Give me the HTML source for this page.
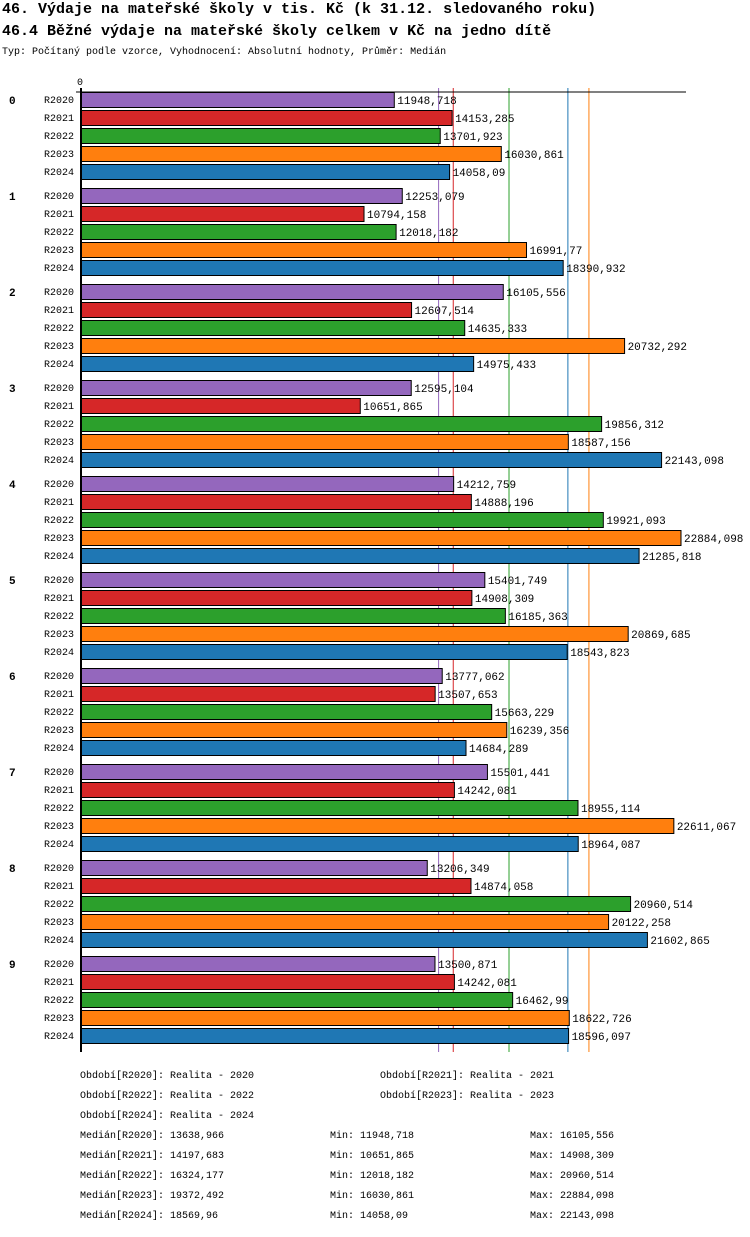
<!DOCTYPE html>
<html><head><meta charset="utf-8"><style>
body{margin:0;background:#fff;width:750px;height:1232px;overflow:hidden;font-family:"Liberation Mono",monospace}
svg text{font-family:"Liberation Mono",monospace}
</style></head><body>
<svg id="c" width="750" height="1232" xmlns="http://www.w3.org/2000/svg">
<text x="2" y="13" font-size="15" font-weight="bold">46. Výdaje na mateřské školy v tis. Kč (k 31.12. sledovaného roku)</text>
<text x="2" y="35" font-size="15" font-weight="bold">46.4 Běžné výdaje na mateřské školy celkem v Kč na jedno dítě</text>
<text x="2" y="54" font-size="10">Typ: Počítaný podle vzorce, Vyhodnocení: Absolutní hodnoty, Průměr: Medián</text>
<g id="g"></g>
</svg>
<script>
const groups=["0","1","2","3","4","5","6","7","8","9"];
const seriesNames=["R2020","R2021","R2022","R2023","R2024"];
const colors=["#9467bd","#d62728","#2ca02c","#ff7f0e","#1f77b4"];
const r2020=[11948.718,12253.079,16105.556,12595.104,14212.759,15401.749,13777.062,15501.441,13206.349,13500.871];
const r2021=[14153.285,10794.158,12607.514,10651.865,14888.196,14908.309,13507.653,14242.081,14874.058,14242.081];
const r2022=[13701.923,12018.182,14635.333,19856.312,19921.093,16185.363,15663.229,18955.114,20960.514,16462.99];
const r2023=[16030.861,16991.77,20732.292,18587.156,22884.098,20869.685,16239.356,22611.067,20122.258,18622.726];
const r2024=[14058.09,18390.932,14975.433,22143.098,21285.818,18543.823,14684.289,18964.087,21602.865,18596.097];
const medians=[13638.966,14197.683,16324.177,19372.492,18569.96];
const mins=[11948.718,10651.865,12018.182,16030.861,14058.09];
const maxs=[16105.556,14908.309,20960.514,22884.098,22143.098];
const series=[r2020,r2021,r2022,r2023,r2024];
const X0=81,XMAX=22884.098,XW=600;
function x(v){return X0+v/XMAX*XW;}
function y(gi,si){return 92+gi*96+si*18;}
const NS="http://www.w3.org/2000/svg",G=document.getElementById('g');
function mk(t,a,txt){const e=document.createElementNS(NS,t);for(const k in a)e.setAttribute(k,a[k]);if(txt!=null)e.textContent=txt;G.appendChild(e);return e;}
const fmt=v=>String(v).replace('.',',');
// median lines
medians.forEach((m,i)=>{const e=mk('line',{x1:x(m),x2:x(m),y1:88,y2:1052,stroke:colors[i],'stroke-width':1});

});
groups.forEach((g,gi)=>{
 const gl=mk('text',{x:9,y:y(gi,0)+12,'font-size':11,'font-weight':'bold'},g);
 
 
 series.forEach((s,si)=>{
  const yy=y(gi,si);
  const l=mk('text',{x:44,y:yy+11,'font-size':10},seriesNames[si]);
  
  
  const b=mk('rect',{x:X0,y:yy+0.5,width:x(s[gi])-X0,height:15,fill:colors[si],stroke:'#000','stroke-width':1});
  
  
  const v=mk('text',{x:x(s[gi])+3,y:yy+12,'font-size':11},fmt(s[gi]));
  
  
 });
});
// axes
const ax=mk('line',{x1:X0,x2:X0,y1:88,y2:1052,stroke:'#000','stroke-width':2});


const ax2=mk('line',{x1:76,x2:686,y1:92,y2:92,stroke:'#000','stroke-width':1});


const t0=mk('text',{x:77,y:85,'font-size':10},'0');


// footer
const leg=[[80,1078,0],[380,1078,1],[80,1098,2],[380,1098,3],[80,1118,4]];
leg.forEach(([lx,ly,i])=>{const e=mk('text',{x:lx,y:ly,'font-size':10},'Období['+seriesNames[i]+']: Realita - '+seriesNames[i].slice(1));

});
seriesNames.forEach((n,i)=>{const yy=1138+i*20;
 const a=mk('text',{x:80,y:yy,'font-size':10},'Medián['+n+']: '+fmt(medians[i]));
 
 
 const b=mk('text',{x:330,y:yy,'font-size':10},'Min: '+fmt(mins[i]));
 
 
 const c=mk('text',{x:530,y:yy,'font-size':10},'Max: '+fmt(maxs[i]));
 
 
});
</script>
</body></html>
